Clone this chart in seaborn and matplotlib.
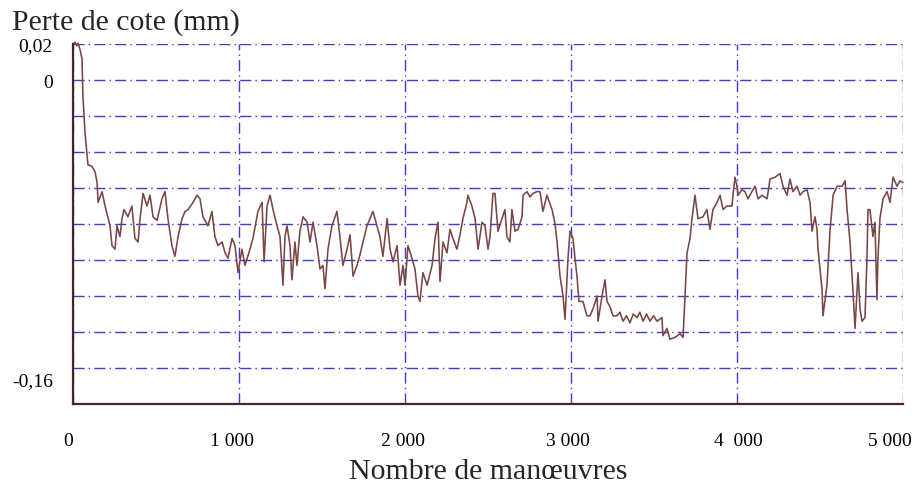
import matplotlib
matplotlib.use("Agg")
import matplotlib.pyplot as plt
import matplotlib.transforms as mtransforms
import pandas as pd
import seaborn as sns

# values (manoeuvres, loss in mm)
manoeuvres = [
    0, 12, 24, 30, 42, 54, 60, 72, 90, 114, 133, 145, 151, 175, 193, 223, 235, 253, 265, 283,
    295, 307, 331, 355, 373, 392, 404, 422, 446, 464, 482, 506, 536, 554, 572, 596, 614, 633, 657, 675,
    693, 723, 747, 765, 783, 813, 837, 855, 873, 898, 916, 934, 958, 976, 994, 1018, 1036, 1066, 1084, 1114,
    1139, 1151, 1169, 1187, 1205, 1229, 1247, 1265, 1277, 1289, 1307, 1319, 1337, 1349, 1367, 1386, 1410, 1428, 1446, 1470,
    1488, 1506, 1518, 1536, 1560, 1590, 1608, 1626, 1651, 1669, 1687, 1711, 1729, 1747, 1771, 1789, 1807, 1831, 1849, 1867,
    1892, 1910, 1928, 1952, 1970, 1988, 2000, 2018, 2042, 2060, 2078, 2090, 2108, 2133, 2163, 2181, 2199, 2211, 2229, 2253,
    2271, 2289, 2313, 2331, 2349, 2373, 2379, 2403, 2422, 2440, 2464, 2482, 2500, 2512, 2530, 2542, 2560, 2584, 2602, 2614,
    2632, 2644, 2663, 2681, 2705, 2711, 2735, 2753, 2771, 2795, 2813, 2831, 2855, 2886, 2904, 2916, 2934, 2952, 2964, 2982,
    2994, 3012, 3024, 3036, 3048, 3072, 3096, 3114, 3133, 3157, 3163, 3187, 3205, 3217, 3235, 3253, 3277, 3295, 3313, 3335,
    3355, 3375, 3398, 3415, 3434, 3455, 3476, 3497, 3518, 3548, 3554, 3578, 3596, 3626, 3657, 3675, 3687, 3699, 3717, 3729,
    3747, 3765, 3795, 3819, 3837, 3855, 3880, 3898, 3916, 3940, 3970, 3976, 3988, 4000, 4006, 4030, 4048, 4066, 4090, 4108,
    4127, 4151, 4181, 4199, 4229, 4259, 4277, 4301, 4319, 4337, 4361, 4380, 4398, 4422, 4440, 4452, 4470, 4482, 4488, 4512,
    4518, 4542, 4560, 4579, 4603, 4633, 4651, 4663, 4681, 4699, 4711, 4729, 4741, 4753, 4771, 4783, 4789, 4801, 4819, 4831,
    4843, 4849, 4861, 4880, 4904, 4922, 4940, 4964, 4982, 5000,
]
perte = [
    0.020, 0.021, 0.019, 0.0205, 0.017, 0.012, -0.009, -0.029, -0.047, -0.048, -0.051, -0.057, -0.068, -0.062, -0.070, -0.081, -0.092, -0.094, -0.081, -0.087,
    -0.077, -0.072, -0.076, -0.070, -0.088, -0.090, -0.077, -0.063, -0.070, -0.064, -0.076, -0.078, -0.066, -0.062, -0.077, -0.092, -0.098, -0.087, -0.077, -0.073,
    -0.072, -0.068, -0.064, -0.066, -0.076, -0.081, -0.073, -0.087, -0.092, -0.090, -0.096, -0.099, -0.088, -0.092, -0.107, -0.094, -0.103, -0.094, -0.088, -0.073,
    -0.068, -0.101, -0.070, -0.064, -0.072, -0.081, -0.087, -0.114, -0.087, -0.081, -0.092, -0.111, -0.090, -0.103, -0.084, -0.076, -0.079, -0.090, -0.079, -0.092,
    -0.105, -0.103, -0.116, -0.094, -0.081, -0.073, -0.087, -0.103, -0.094, -0.086, -0.109, -0.103, -0.097, -0.090, -0.081, -0.077, -0.073, -0.081, -0.087, -0.098,
    -0.077, -0.094, -0.101, -0.092, -0.114, -0.103, -0.114, -0.092, -0.099, -0.105, -0.120, -0.123, -0.107, -0.114, -0.103, -0.088, -0.079, -0.112, -0.090, -0.096,
    -0.083, -0.088, -0.094, -0.086, -0.077, -0.068, -0.064, -0.070, -0.077, -0.094, -0.079, -0.081, -0.094, -0.087, -0.063, -0.063, -0.084, -0.077, -0.072, -0.087,
    -0.090, -0.072, -0.084, -0.083, -0.076, -0.064, -0.062, -0.065, -0.063, -0.062, -0.062, -0.073, -0.064, -0.072, -0.080, -0.090, -0.109, -0.120, -0.133, -0.099,
    -0.084, -0.088, -0.099, -0.109, -0.123, -0.123, -0.131, -0.131, -0.127, -0.120, -0.134, -0.120, -0.111, -0.123, -0.126, -0.131, -0.131, -0.129, -0.134, -0.131,
    -0.135, -0.130, -0.132, -0.129, -0.134, -0.130, -0.134, -0.131, -0.134, -0.132, -0.142, -0.138, -0.144, -0.143, -0.141, -0.143, -0.120, -0.096, -0.088, -0.077,
    -0.064, -0.077, -0.076, -0.072, -0.083, -0.072, -0.068, -0.064, -0.072, -0.070, -0.070, -0.064, -0.054, -0.059, -0.064, -0.061, -0.062, -0.066, -0.062, -0.059,
    -0.066, -0.064, -0.066, -0.055, -0.054, -0.052, -0.059, -0.064, -0.055, -0.062, -0.059, -0.064, -0.062, -0.061, -0.068, -0.084, -0.076, -0.083, -0.094, -0.116,
    -0.131, -0.114, -0.084, -0.064, -0.059, -0.059, -0.056, -0.072, -0.090, -0.118, -0.138, -0.107, -0.127, -0.134, -0.132, -0.099, -0.072, -0.072, -0.087, -0.079,
    -0.122, -0.099, -0.077, -0.066, -0.062, -0.068, -0.054, -0.059, -0.056, -0.057,
]

x_major = [0, 1000, 2000, 3000, 4000, 5000]
x_labels = ["0", "1 000", "2 000", "3 000", "4  000", "5 000"]
x_minor = [500, 1500, 2500, 3500, 4500]
y_ticks = [-0.16, -0.14, -0.12, -0.10, -0.08, -0.06, -0.04, -0.02, 0.0, 0.02]
y_labels = ["-0,16", "", "", "", "", "", "", "", "0", "0,02"]

sns.set_theme(style="white")
plt.rcParams["font.family"] = ["Liberation Serif", "DejaVu Serif"]

axis_col = "#4b2323"
grid_col = "#3c3cd2"

fig = plt.figure(figsize=(9.16, 4.85), dpi=100)
ax = fig.add_axes([73 / 916, 80 / 485, 830 / 916, 360 / 485])

df = pd.DataFrame({"manoeuvres": manoeuvres, "perte": perte})
sns.lineplot(data=df, x="manoeuvres", y="perte", ax=ax, color="#7a4646",
             linewidth=1.15, estimator=None, sort=False, clip_on=False, zorder=3)

ax.set_xlim(0, 5000)
ax.set_ylim(-0.18, 0.02)
ax.set_xticks(x_major)
ax.set_xticklabels(x_labels)
ax.set_xticks(x_minor, minor=True)
ax.set_yticks(y_ticks)
ax.set_yticklabels(y_labels)

ax.grid(True, which="major", color=grid_col, linestyle=(0, (8, 3, 1, 3)), linewidth=1.0)
ax.set_axisbelow(True)

for side in ["top", "right"]:
    ax.spines[side].set_visible(False)
for side in ["left", "bottom"]:
    ax.spines[side].set_color(axis_col)
    ax.spines[side].set_linewidth(1.6)
    ax.spines[side].set_zorder(4)

ax.tick_params(axis="both", which="both", direction="out", length=5.5, width=1.6,
               color=axis_col, labelsize=14, labelcolor="black")
ax.tick_params(axis="x", which="both", pad=15)
ax.tick_params(axis="y", pad=9)

# the lower tick labels sit a bit off their ticks in the original
label_shift = [-5, -7, -2, -3, 1, -13]
for lab, dx in zip(ax.get_xticklabels(), label_shift):
    off = mtransforms.ScaledTranslation(dx / 100, 0, fig.dpi_scale_trans)
    lab.set_transform(lab.get_transform() + off)
shift_y = mtransforms.ScaledTranslation(0, -11 / 100, fig.dpi_scale_trans)
for lab in ax.get_yticklabels():
    if lab.get_text() == "-0,16":
        lab.set_transform(lab.get_transform() + shift_y)

ax.set_xlabel("Nombre de manœuvres", fontsize=21.5, labelpad=6)
ax.set_ylabel("")
fig.text(12 / 916, 1 - 30 / 485, "Perte de cote (mm)", fontsize=21.5, va="baseline", ha="left")

fig.savefig("out.png", dpi=100)
